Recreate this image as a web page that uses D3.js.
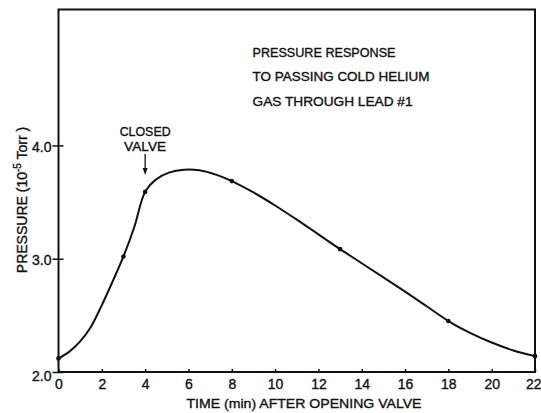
<!DOCTYPE html>
<html>
<head>
<meta charset="utf-8">
<script src="https://cdn.jsdelivr.net/npm/d3@7"></script>
<style>
  html, body { margin: 0; padding: 0; background: #fff; }
  svg { display: block; }
  text { font-family: "Liberation Sans", "DejaVu Sans", sans-serif; fill: #111; stroke: #111; stroke-width: 0.35px; }
</style>
</head>
<body>
<svg id="chart" width="541" height="413"></svg>
<script>
// Pressure trace after opening the valve (time in min, pressure in 1e-5 Torr)
const curveTime     = [0, 0.5, 1, 1.5, 2, 2.5, 3, 3.5, 4, 4.5, 5.1, 5.8, 6.5, 7.3, 8, 9, 10, 11, 12, 13, 14, 15, 16, 17, 18, 19, 20, 21, 22];
const curvePressure = [2.12, 2.18, 2.27, 2.40, 2.59, 2.80, 3.02, 3.28, 3.59, 3.70, 3.76, 3.785, 3.78, 3.74, 3.685, 3.585, 3.47, 3.345, 3.215, 3.085, 2.96, 2.835, 2.71, 2.58, 2.45, 2.345, 2.26, 2.19, 2.14];

// Measured readings marked with dots
const readingTime     = [0, 3, 4, 8, 13, 18, 22];
const readingPressure = [2.12, 3.02, 3.59, 3.685, 3.085, 2.45, 2.14];

const xTicks = [0, 2, 4, 6, 8, 10, 12, 14, 16, 18, 20, 22];
const yTicks = [2.0, 3.0, 4.0];
const titleLines = ["PRESSURE RESPONSE", "TO PASSING COLD HELIUM", "GAS THROUGH LEAD #1"];
const closedValveTime = 4;

const svg = d3.select("#chart");
const plotLeft = 58.5, plotRight = 535, plotTop = 9.5, plotBottom = 372;

const x = d3.scaleLinear().domain([0, 22]).range([plotLeft, plotRight]);
const y = d3.scaleLinear().domain([2, 5.2]).range([plotBottom, plotTop]);

// Frame
svg.append("rect")
  .attr("x", plotLeft).attr("y", plotTop)
  .attr("width", plotRight - plotLeft).attr("height", plotBottom - plotTop)
  .attr("fill", "none").attr("stroke", "#111").attr("stroke-width", 2);

// X axis: short inward ticks
const xAxis = d3.axisBottom(x).tickValues(xTicks).tickSizeInner(-3).tickSizeOuter(0)
  .tickFormat(d3.format("d")).tickPadding(6);
const gx = svg.append("g").attr("transform", `translate(0,${plotBottom})`).call(xAxis);
gx.select(".domain").remove();
gx.selectAll("line").attr("stroke", "#111").attr("stroke-width", 1.5);
gx.selectAll("text").attr("font-size", 14).attr("fill", "#111").attr("dy", "0.75em");
// keep the last label inside the page edge
gx.selectAll(".tick").filter(d => d === 22).select("text").attr("text-anchor", "end").attr("x", 6);

// Y axis: ticks crossing the axis line
const yAxis = d3.axisLeft(y).tickValues(yTicks).tickSizeInner(6).tickSizeOuter(0)
  .tickFormat(d3.format(".1f")).tickPadding(1);
const gy = svg.append("g").attr("transform", `translate(${plotLeft},0)`).call(yAxis);
gy.select(".domain").remove();
gy.selectAll("line").attr("x2", -6).attr("x1", 5).attr("stroke", "#111").attr("stroke-width", 1.5);
gy.selectAll("text").attr("font-size", 14).attr("fill", "#111").attr("dy", "0.4em");
gy.selectAll(".tick").filter(d => d === 2).select("text").attr("dy", "0.6em");

// Axis titles
svg.append("text")
  .attr("x", 304).attr("y", 408)
  .attr("text-anchor", "middle").attr("font-size", 13.5)
  .attr("textLength", 235).attr("lengthAdjust", "spacingAndGlyphs")
  .text("TIME (min) AFTER OPENING VALVE");

const yl = svg.append("text")
  .attr("transform", "translate(27,200) rotate(-90)")
  .attr("text-anchor", "middle").attr("font-size", 14);
yl.append("tspan").text("PRESSURE  (10");
yl.append("tspan").attr("font-size", 10).attr("dy", -6).text("-5");
yl.append("tspan").attr("dy", 6).text(" Torr )");

// Curve
const line = d3.line()
  .x((d, i) => x(curveTime[i]))
  .y(d => y(d))
  .curve(d3.curveCatmullRom.alpha(0.5));
svg.append("path")
  .attr("d", line(curvePressure))
  .attr("fill", "none").attr("stroke", "#111").attr("stroke-width", 2);

// Reading dots
svg.append("g").selectAll("circle")
  .data(readingPressure)
  .join("circle")
  .attr("cx", (d, i) => x(readingTime[i]))
  .attr("cy", d => y(d))
  .attr("r", 2.3)
  .attr("fill", "#111");

// Annotation: closed valve
const ax = x(closedValveTime);
svg.append("text").attr("x", ax).attr("y", 135.5).attr("text-anchor", "middle")
  .attr("font-size", 12.5).attr("textLength", 51).attr("lengthAdjust", "spacingAndGlyphs").text("CLOSED");
svg.append("text").attr("x", ax).attr("y", 150.5).attr("text-anchor", "middle")
  .attr("font-size", 12.5).attr("textLength", 42).attr("lengthAdjust", "spacingAndGlyphs").text("VALVE");
svg.append("line").attr("x1", ax).attr("x2", ax).attr("y1", 154).attr("y2", 172)
  .attr("stroke", "#111").attr("stroke-width", 1.3);
svg.append("path")
  .attr("d", `M${ax - 2.5},${168} L${ax + 2.5},${168} L${ax},${175} Z`)
  .attr("fill", "#111");

// Title block
const titleWidths = [143, 177, 160];
svg.append("g").selectAll("text")
  .data(titleLines)
  .join("text")
  .attr("x", 252.5)
  .attr("y", (d, i) => 56.5 + i * 24.8)
  .attr("font-size", 12.5)
  .attr("textLength", (d, i) => titleWidths[i])
  .attr("lengthAdjust", "spacingAndGlyphs")
  .text(d => d);
</script>
</body>
</html>
